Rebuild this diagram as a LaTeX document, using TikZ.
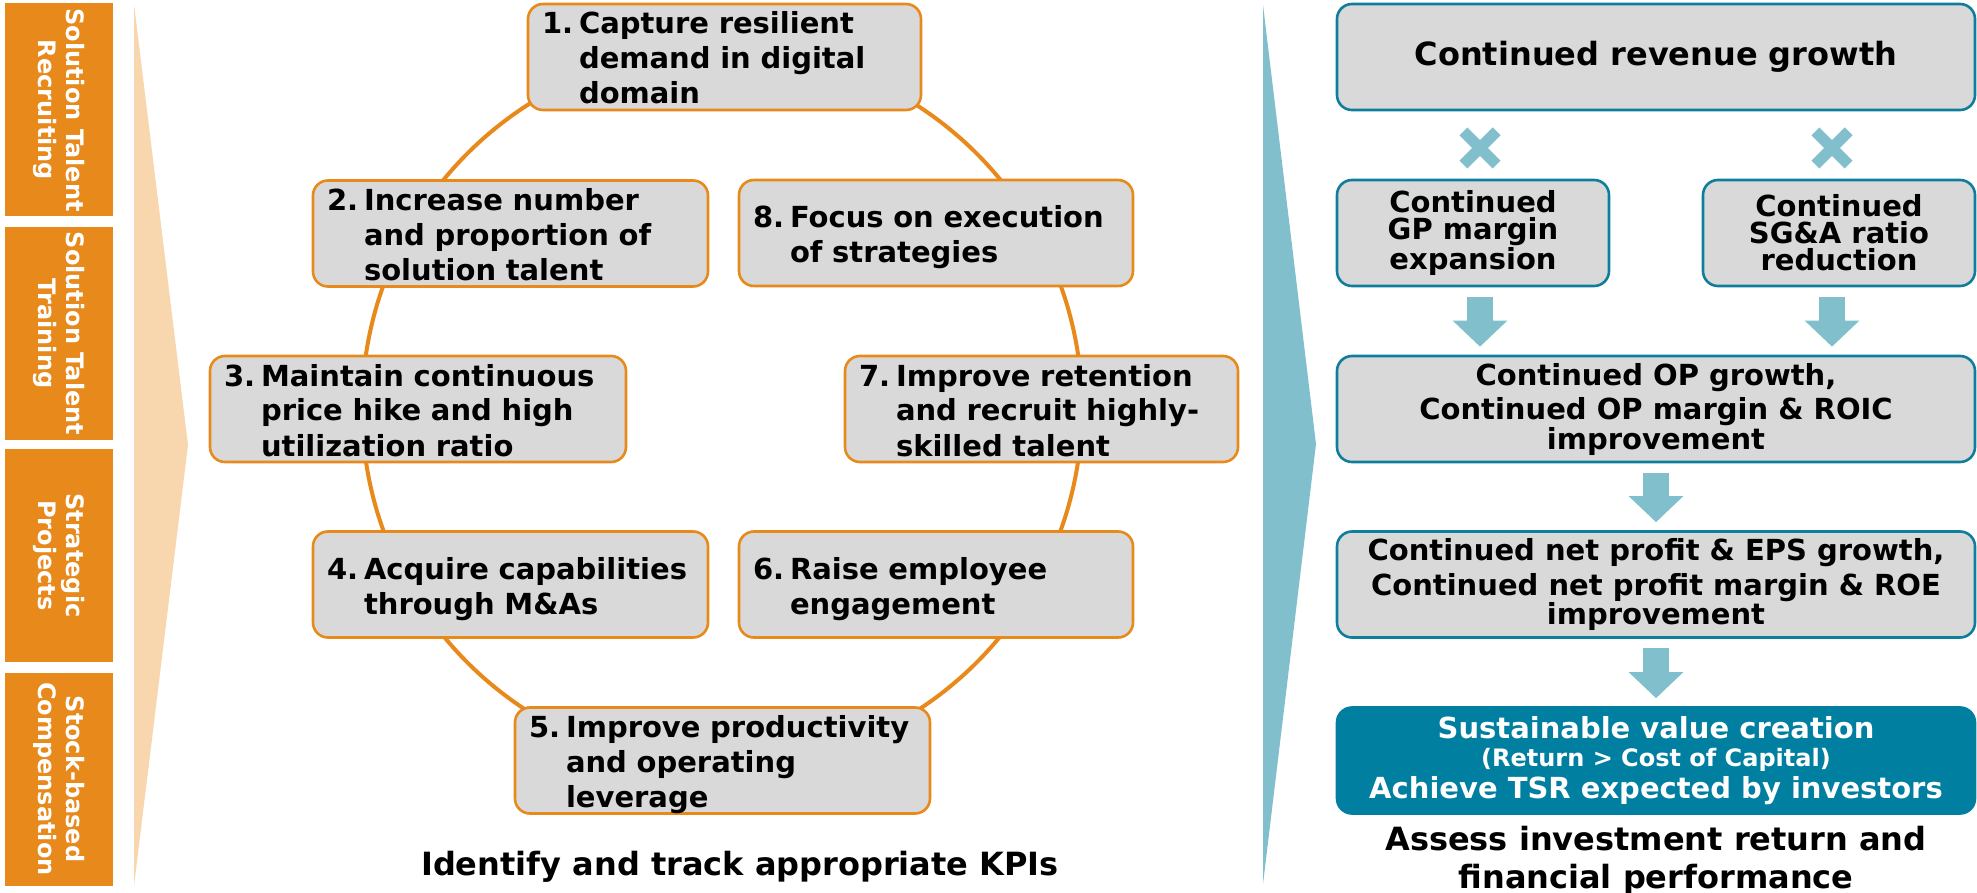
\documentclass[tikz,border=0pt]{standalone}
\usepackage{fontspec}
\setmainfont{DejaVu Sans}
\usepackage{tikz}
\usetikzlibrary{arrows.meta}
\usetikzlibrary{calc}

\definecolor{kpiorange}{HTML}{E8891C}
\definecolor{chevorange}{HTML}{F8D6AE}
\definecolor{paleteal}{HTML}{82BFCD}
\definecolor{deepteal}{HTML}{0F7D9C}
\definecolor{valteal}{HTML}{007FA0}
\definecolor{boxgrey}{HTML}{D9D9D9}

\newcommand{\kpitext}[2]{\noindent\raisebox{-2.5pt}[\height][\depth]{\makebox[18.5pt][l]{#1}\begin{tabular}[t]{@{}l@{}}#2\end{tabular}}}

\begin{document}
\begin{tikzpicture}[line join=round, x=0.5pt, y=-0.5pt,
  kpibox/.style={draw=kpiorange, fill=boxgrey, line width=1.3pt, rounded corners=7.5pt, inner xsep=7pt, inner ysep=0pt, minimum height=53pt, align=left, font=\bfseries\fontsize{14.5}{17.5}\selectfont},
  finbox/.style={draw=deepteal, fill=boxgrey, line width=1.3pt, rounded corners=7.5pt, inner sep=0pt, minimum height=53pt, align=center, font=\bfseries\fontsize{14.5}{17.5}\selectfont},
  lever/.style={fill=kpiorange, text=white, rotate=-90, inner sep=0pt, minimum width=106.5pt, minimum height=54pt, align=center, font=\bfseries\fontsize{12}{14}\selectfont},
  bigarrow/.style={draw=paleteal, line width=13pt, -{Triangle[length=13pt,width=26.5pt]}, shorten <=4.75pt, shorten >=4pt},
  caption/.style={inner sep=0pt, align=center, font=\bfseries\fontsize{16}{19}\selectfont}]
\useasboundingbox (0,0) rectangle (1977,893);

\fill[chevorange] (134,4) -- (188,445) -- (134,886) -- cycle;
\fill[paleteal] (1263,5) -- (1316,444) -- (1263,884) -- cycle;

\node[lever] (lv1) at (59,110) {Solution Talent\\Recruiting};
\node[lever] (lv2) at (59,333.5) {Solution Talent\\Training};
\node[lever] (lv3) at (59,555.5) {Strategic\\Projects};
\node[lever] (lv4) at (59,779) {Stock-based\\Compensation};

\draw[kpiorange, line width=2pt] (722,408) circle [radius=180pt];

\node[kpibox, text width=182.5pt] (k1) at (724.5,57) {\kpitext{1.}{Capture resilient\\demand in digital\\domain}};
\node[kpibox, text width=183.5pt] (k2) at (510.5,233.5) {\kpitext{2.}{Increase number\\and proportion of\\solution talent}};
\node[kpibox, text width=194pt] (k3) at (418,409) {\kpitext{3.}{Maintain continuous\\price hike and high\\utilization ratio}};
\node[kpibox, text width=183.5pt] (k4) at (510.5,584.5) {\kpitext{4.}{Acquire capabilities\\through M\&As}};
\node[kpibox, text width=193.5pt] (k5) at (722.5,760.5) {\kpitext{5.}{Improve productivity\\and operating\\leverage}};
\node[kpibox, text width=183pt] (k6) at (936,584.5) {\kpitext{6.}{Raise employee\\engagement}};
\node[kpibox, text width=182.5pt] (k7) at (1041.5,409) {\kpitext{7.}{Improve retention\\and recruit highly-\\skilled talent}};
\node[kpibox, text width=183pt] (k8) at (936,233) {\kpitext{8.}{Focus on execution\\of strategies}};

\node[caption, anchor=base] (kpis) at (740,875) {Identify and track appropriate KPIs};

\node[finbox, minimum width=319pt, font=\bfseries\fontsize{16}{19}\selectfont] (r1) at (1656,57) {Continued revenue growth};
\node[finbox, minimum width=136pt, font=\bfseries\fontsize{14.5}{13.5}\selectfont] (rgp) at (1473,233) {Continued\\GP margin\\expansion};
\node[finbox, minimum width=136pt, font=\bfseries\fontsize{14.5}{13.5}\selectfont] (rsg) at (1839,233) {Continued\\SG\&A ratio\\reduction};
\node[finbox, minimum width=319pt] (rop) at (1656,409) {Continued OP growth,\\Continued OP margin \& ROIC\\[-3pt]improvement};
\node[finbox, minimum width=319pt] (rnp) at (1656,584.5) {Continued net profit \& EPS growth,\\Continued net profit margin \& ROE\\[-3pt]improvement};
\node[finbox, draw=valteal, fill=valteal, text=white, minimum width=319pt, font=\bfseries\fontsize{14.5}{14}\selectfont] (rval) at (1656,760.5) {Sustainable value creation\\{\fontsize{12}{14}\selectfont(Return > Cost of Capital)}\\[2pt]Achieve TSR expected by investors};

\node[caption, anchor=north] (assess) at (1656,826) {Assess investment return and\\financial performance};

\foreach \xm in {1480,1832} {
  \fill[paleteal, rotate around={45:(\xm,148)}] (\xm-23.5,142.5) rectangle (\xm+23.5,153.5);
  \fill[paleteal, rotate around={-45:(\xm,148)}] (\xm-23.5,142.5) rectangle (\xm+23.5,153.5);
}

\draw[bigarrow] ($(rgp.south)+(7,0)$) -- ($(rgp.south |- rop.north)+(7,0)$);
\draw[bigarrow] ($(rsg.south)+(-7,0)$) -- ($(rsg.south |- rop.north)+(-7,0)$);
\draw[bigarrow] (rop) -- (rnp);
\draw[bigarrow] (rnp) -- (rval);
\end{tikzpicture}
\end{document}
